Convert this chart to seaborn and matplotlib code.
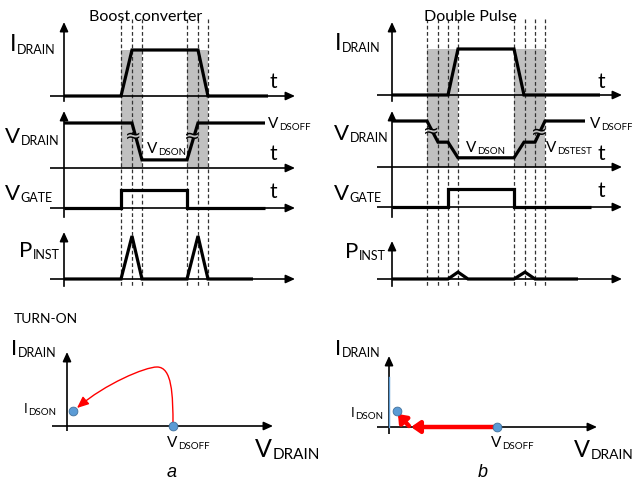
import matplotlib
matplotlib.use('Agg')
import matplotlib.pyplot as plt
import seaborn as sns
from matplotlib.path import Path
from matplotlib.patches import FancyArrowPatch, Rectangle

# ---------------- data ----------------
# (a) Boost converter: time breakpoints (arbitrary units) and normalised levels
a_idrain_t = [0, 57, 68, 134, 144, 204]
a_idrain_v = [0, 0, 1, 1, 0, 0]
a_vdrain_t = [0, 68, 78, 123, 134, 201]
a_vdrain_v = [1, 1, 0.18, 0.18, 1, 1]
a_vgate_t = [0, 57, 57, 123, 123, 201]
a_vgate_v = [0, 0, 1, 1, 0, 0]
a_pinst_t = [0, 57, 68, 78, 123, 134, 144, 189]
a_pinst_v = [0, 0, 1, 0, 0, 1, 0, 0]
a_shade = [(57, 78), (123, 144)]
a_dash = [57, 68, 78, 123, 134, 144]

# (b) Double pulse
b_idrain_t = [0, 56, 66, 122, 132, 208]
b_idrain_v = [0, 0, 1, 1, 0, 0]
b_vdrain_t = [0, 35, 46, 56, 66, 122, 132, 143, 153, 193]
b_vdrain_v = [1, 1, 0.54, 0.54, 0.2, 0.2, 0.54, 0.54, 1, 1]
b_vgate_t = [0, 56, 56, 122, 122, 199]
b_vgate_v = [0, 0, 1, 1, 0, 0]
b_pinst_t = [0, 56, 66, 76, 122, 133, 143, 186]
b_pinst_v = [0, 0, 0.16, 0, 0, 0.16, 0, 0]
b_shade = [(35, 66), (122, 153)]
b_dash = [35, 46, 56, 66, 122, 133, 143, 153]

# turn-on trajectories (V_DRAIN, I_DRAIN)
a_points_v = [6, 106]
a_points_i = [15, 0]
a_traj_v = [106, 106, 105, 90, 78, 38, 10]
a_traj_i = [0, 32, 59, 59, 59, 42, 18]
b_points_v = [8, 108]
b_points_i = [16, 0]
b_traj1_v = [108, 22]
b_traj1_i = [0, 0]
b_traj2_v = [20, 9]
b_traj2_i = [1, 13]

# ---------------- figure ----------------
W, H = 632, 481
fig = plt.figure(figsize=(W / 100, H / 100), dpi=100)
FONT = 'Lato'
SHADE = '#c0c0c0'
LW = 2.3


def px_axes(x0, x1, y0, y1):
    ax = fig.add_axes([x0 / W, 1 - y1 / H, (x1 - x0) / W, (y1 - y0) / H])
    ax.axis('off')
    ax.patch.set_alpha(0)
    return ax


def arrow(ax, p0, p1, lw=1.2, color='black', hl=0.55, hw=0.25):
    ax.annotate('', xy=p1, xytext=p0, annotation_clip=False,
                arrowprops=dict(arrowstyle=f'-|>,head_length={hl},head_width={hw}',
                                lw=lw, color=color, shrinkA=0, shrinkB=0))


def column(colx, xlim, shade, dash, shade_y, hax_y, vax, traces):
    ov = px_axes(colx[0], colx[1], 15, 290)
    ov.set_xlim(*xlim)
    ov.set_ylim(290, 15)
    for t0, t1 in shade:
        ov.fill_between([t0, t1], shade_y[0], shade_y[1], color=SHADE, lw=0)
    ov.vlines(dash, 20, 287, colors='#333333', lw=0.9, linestyles=(0, (3, 2)))
    for y in hax_y:
        ov.plot([xlim[0], xlim[1] - 5], [y, y], color='black', lw=1.2)
        arrow(ov, (xlim[1] - 6, y), (xlim[1], y))
    for ybot, ytop in vax:
        ov.plot([0, 0], [ybot, ytop + 5], color='black', lw=1.2)
        arrow(ov, (0, ytop + 6), (0, ytop))
    for (t, v, base, one) in traces:
        top, bot = one - 12, base + 8
        ax = px_axes(colx[0], colx[1], top, bot)
        k = base - one
        ax.set_xlim(*xlim)
        ax.set_ylim(-(bot - base) / k, (base - top) / k)
        sns.lineplot(x=t, y=v, ax=ax, sort=False, estimator=None, color='black',
                     lw=LW, legend=False, solid_joinstyle='miter', solid_capstyle='butt')
    return ov


column((50, 295), (-14, 231), a_shade, a_dash, (51, 169), [97, 169, 209, 280],
       [(102, 23), (218, 112), (287, 233)],
       [(a_idrain_t, a_idrain_v, 97, 51), (a_vdrain_t, a_vdrain_v, 169, 124),
        (a_vgate_t, a_vgate_v, 209, 191), (a_pinst_t, a_pinst_v, 280, 237)])
column((377, 622), (-15, 230), b_shade, b_dash, (50, 168), [96, 168, 208, 280],
       [(102, 23), (218, 112), (287, 242)],
       [(b_idrain_t, b_idrain_v, 96, 50), (b_vdrain_t, b_vdrain_v, 168, 122),
        (b_vgate_t, b_vgate_v, 208, 190), (b_pinst_t, b_pinst_v, 280, 237)])

# ---- bottom trajectory plots ----
axa = px_axes(52, 273, 353, 432)
axa.set_xlim(-15, 206)
axa.set_ylim(-5, 74)
axa.plot([-15, 200], [0, 0], color='black', lw=1.2)
arrow(axa, (199, 0), (206, 0))
axa.plot([0, 0], [-5, 68], color='black', lw=1.2)
arrow(axa, (0, 67), (0, 74))
verts = list(zip(a_traj_v, a_traj_i))
codes = [Path.MOVETO] + [Path.CURVE4] * 6
axa.add_patch(FancyArrowPatch(path=Path(verts, codes), arrowstyle='-|>,head_length=0.7,head_width=0.3',
                              mutation_scale=10, color='#ff0000', lw=1.0))
sns.scatterplot(x=a_points_v, y=a_points_i, ax=axa, s=40, color='#5b9bd5',
                edgecolor='#41719c', linewidth=0.6, zorder=5, legend=False)

axb = px_axes(377, 597, 357, 435)
axb.set_xlim(-12, 208)
axb.set_ylim(-7, 71)
axb.plot([-12, 202], [0, 0], color='black', lw=1.2)
arrow(axb, (201, 0), (208, 0))
axb.plot([0, 0], [-7, 65], color='black', lw=1.2)
arrow(axb, (0, 64), (0, 71))
axb.plot([0, 0], [0, 50], color='#5b9bd5', lw=1.0)
arrow(axb, (b_traj1_v[0], b_traj1_i[0]), (b_traj1_v[1], b_traj1_i[1]), lw=3.2,
      color='#ff0000', hl=0.5, hw=0.35)
arrow(axb, (b_traj2_v[0], b_traj2_i[0]), (b_traj2_v[1], b_traj2_i[1]), lw=3.2,
      color='#ff0000', hl=0.45, hw=0.35)
sns.scatterplot(x=b_points_v, y=b_points_i, ax=axb, s=40, color='#5b9bd5',
                edgecolor='#41719c', linewidth=0.6, zorder=5, legend=False)

# ---- text layer ----
tax = px_axes(0, W, 0, H)
tax.set_xlim(0, W)
tax.set_ylim(H, 0)
renderer = fig.canvas.get_renderer()


def txt(x, y, s, size, ha='left', style='normal', family=FONT, **kw):
    return tax.text(x, y, s, fontsize=size, ha=ha, va='baseline', family=family,
                    style=style, **kw)


def sublabel(x, y, main, sub, ms, ss, dy=2.5):
    t = txt(x, y, main, ms)
    bb = t.get_window_extent(renderer)
    txt(bb.x1 + 0.5, y + dy, sub, ss)


txt(146, 21, 'Boost converter', 11.5, ha='center')
txt(470, 21, 'Double Pulse', 11.5, ha='center')

# column a labels
sublabel(10, 51, 'I', 'DRAIN', 17, 9)
sublabel(5, 143, 'V', 'DRAIN', 16, 9)
sublabel(5, 200, 'V', 'GATE', 16, 9)
sublabel(19, 257, 'P', 'INST', 16, 9)
for y in (88, 160, 198):
    txt(270, y, 't', 15)
sublabel(268, 128, 'V', 'DSOFF', 11, 7, 2)
sublabel(147, 153, 'V', 'DSON', 11, 7, 2)

# column b labels
sublabel(335, 50, 'I', 'DRAIN', 17, 9)
sublabel(334, 140, 'V', 'DRAIN', 16, 9)
sublabel(334, 200, 'V', 'GATE', 16, 9)
sublabel(345, 258, 'P', 'INST', 16, 9)
for y in (88, 160, 197):
    txt(597, y, 't', 15)
sublabel(590, 128, 'V', 'DSOFF', 11, 7, 2)
sublabel(546, 152, 'V', 'DSTEST', 11, 7, 2)
sublabel(466, 152, 'V', 'DSON', 11, 7, 2)

# break marks on the V_DRAIN transitions
for (x, y) in [(133.5, 137), (192, 137), (431, 132), (539, 133)]:
    tax.add_patch(Rectangle((x - 4, y - 1.5), 8, 3, color=SHADE, lw=0))
    txt(x, y + 5, '\u2248', 14, ha='center', family='DejaVu Sans')

# bottom labels
txt(14, 323, 'TURN-ON', 10)
sublabel(11, 355, 'I', 'DRAIN', 16, 9)
sublabel(24, 413, 'I', 'DSON', 9.5, 7, 2)
sublabel(167, 447, 'V', 'DSOFF', 11, 7, 2)
sublabel(255, 457, 'V', 'DRAIN', 18, 11)
txt(172, 477, 'a', 13, ha='center', style='italic', family='Liberation Sans')

sublabel(335, 355, 'I', 'DRAIN', 16, 9)
sublabel(351, 417, 'I', 'DSON', 9.5, 7, 2)
sublabel(491, 447, 'V', 'DSOFF', 11, 7, 2)
sublabel(574, 457, 'V', 'DRAIN', 17, 10)
txt(483, 477, 'b', 13, ha='center', style='italic', family='Liberation Sans')

fig.savefig('out.png', dpi=100)
